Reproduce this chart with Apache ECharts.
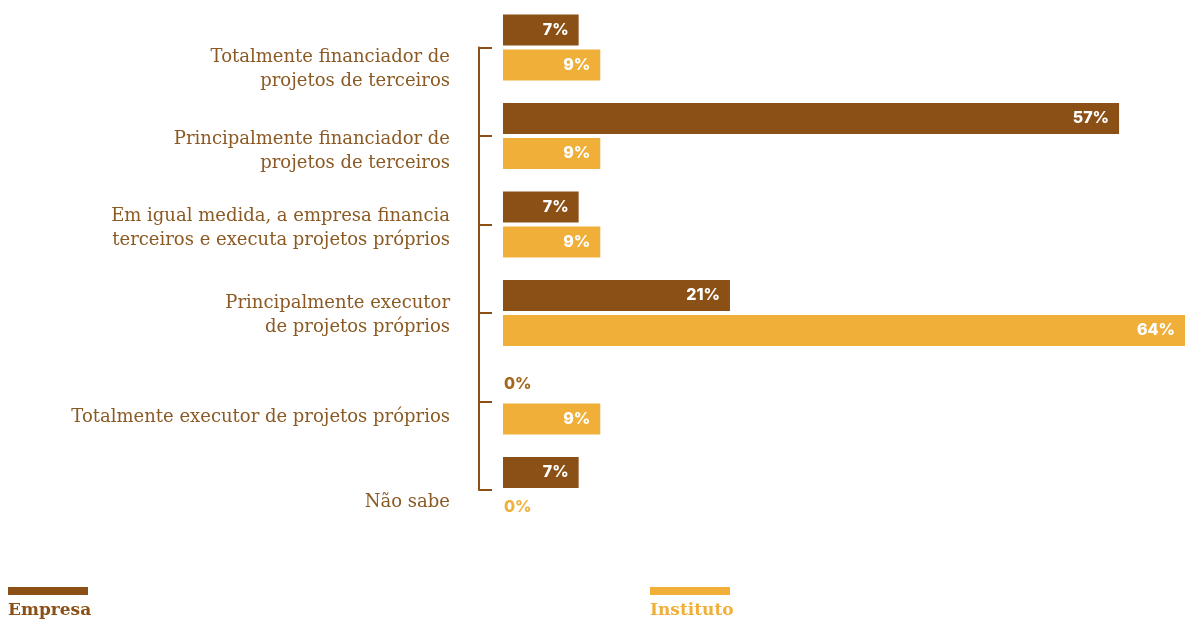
<!DOCTYPE html>
<html>
<head>
<meta charset="utf-8">
<script src="https://cdn.jsdelivr.net/npm/echarts@6/dist/echarts.min.js"></script>
<style>
html,body{margin:0;padding:0;background:#fff;}
#chart{width:1185px;height:621px;}
</style>
</head>
<body>
<div id="chart"></div>
<script>
const categories = [
  'Totalmente financiador de\nprojetos de terceiros',
  'Principalmente financiador de\nprojetos de terceiros',
  'Em igual medida, a empresa financia\nterceiros e executa projetos próprios',
  'Principalmente executor\nde projetos próprios',
  'Totalmente executor de projetos próprios',
  'Não sabe'
];
const empresa = [7, 57, 7, 21, 0, 7];
const instituto = [9, 9, 9, 64, 9, 0];
const labelShift = [44, 30, 8, 4, 32, 24];

const BROWN = '#8B5015';
const GOLD = '#F0AF38';
const ZERO_BROWN = '#A5661E';

function toData(arr, zeroColor) {
  return arr.map(v => v === 0
    ? { value: v, label: { position: 'insideLeft', distance: 1, color: zeroColor, fontWeight: 800 } }
    : v);
}

const rich = {};
labelShift.forEach((h, i) => { rich['sp' + i] = { height: h, lineHeight: h, fontSize: 1 }; });

const chart = echarts.init(document.getElementById('chart'));
chart.setOption({
  animation: false,
  grid: { left: 503, right: 0, top: 47.5, bottom: 131, containLabel: false },
  xAxis: { type: 'value', min: 0, max: 63.1, show: false },
  yAxis: {
    type: 'category',
    inverse: true,
    boundaryGap: false,
    offset: 24,
    data: categories,
    axisLine: { show: true, onZero: false, lineStyle: { color: BROWN, width: 2 } },
    axisTick: { show: true, inside: true, length: 13, lineStyle: { color: BROWN, width: 2 } },
    splitLine: { show: false },
    axisLabel: {
      margin: 29,
      color: '#8B5A24',
      fontFamily: 'DejaVu Serif',
      fontSize: 18,
      lineHeight: 24,
      align: 'right',
      formatter: (v, i) => '{sp' + i + '| }\n' + v,
      rich: rich
    }
  },
  legend: [
    {
      data: ['Empresa'], left: 8, top: 551, padding: 0, icon: 'rect', itemWidth: 80, itemHeight: 8,
      selectedMode: false, formatter: n => '\n' + n,
      textStyle: { color: BROWN, fontFamily: 'DejaVu Serif', fontWeight: 'bold', fontSize: 17, lineHeight: 40, padding: [0, 0, 0, -85] }
    },
    {
      data: ['Instituto'], left: 650, top: 551, padding: 0, icon: 'rect', itemWidth: 80, itemHeight: 8,
      selectedMode: false, formatter: n => '\n' + n,
      textStyle: { color: GOLD, fontFamily: 'DejaVu Serif', fontWeight: 'bold', fontSize: 17, lineHeight: 40, padding: [0, 0, 0, -85] }
    }
  ],
  series: [
    {
      name: 'Empresa', type: 'bar', data: toData(empresa, ZERO_BROWN),
      barWidth: 31, barGap: '13%',
      itemStyle: { color: BROWN },
      label: { show: true, position: 'insideRight', distance: 10, formatter: '{c}%', color: '#fff',
        fontFamily: 'Inter', fontWeight: 800, fontSize: 16 }
    },
    {
      name: 'Instituto', type: 'bar', data: toData(instituto, GOLD),
      barWidth: 31, barGap: '13%',
      itemStyle: { color: GOLD },
      label: { show: true, position: 'insideRight', distance: 10, formatter: '{c}%', color: '#fff',
        fontFamily: 'Inter', fontWeight: 800, fontSize: 16 }
    }
  ]
});
</script>
</body>
</html>
